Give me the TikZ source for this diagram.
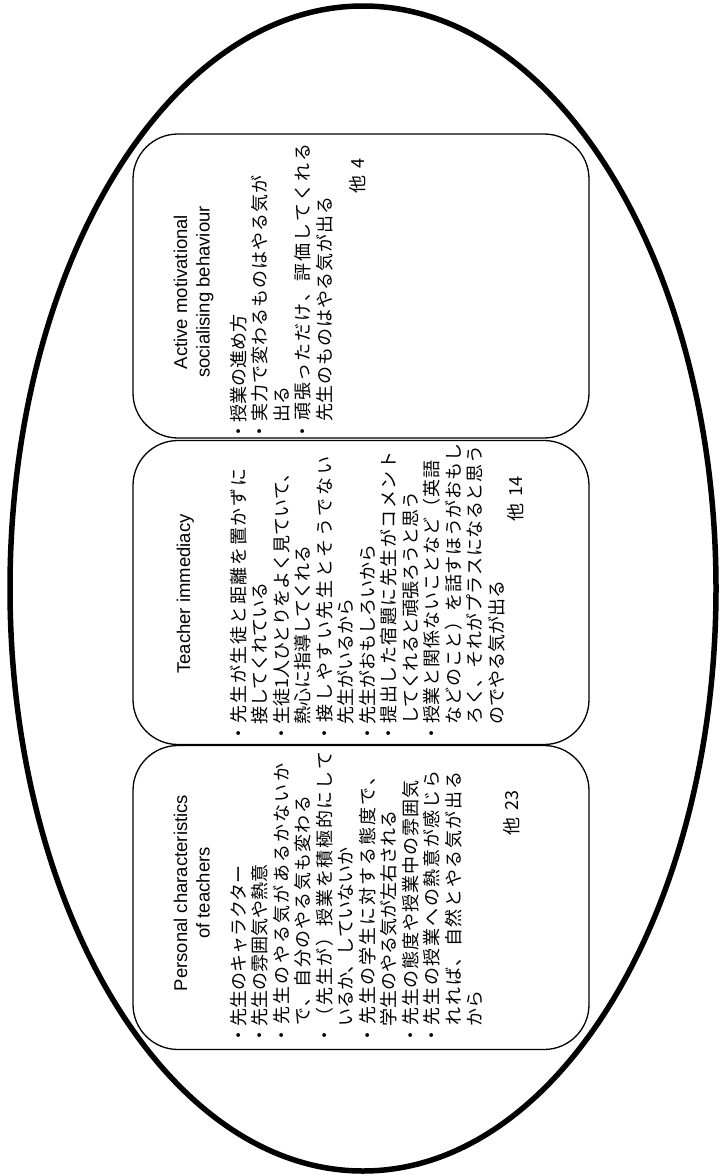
\documentclass[tikz,border=0pt]{standalone}
\usepackage{fontspec}
\setmainfont{Liberation Sans}
\newfontfamily\jp{Noto Sans CJK JP}
\usetikzlibrary{shapes.geometric}
\newcommand{\ph}{\phantom{・}}
% spread the characters of a line evenly over a given length
\def\sprA#1{#1\sprB}
\def\sprB#1{\ifx#1\relax\else\hfil#1\expandafter\sprB\fi}
\newcommand{\jl}[2]{\hbox to #1{\sprA#2\relax}}
\tikzset{
  oval/.style={draw, ellipse, line width=5.5pt, minimum width=706pt, minimum height=1165pt, inner sep=0},
  catbox/.style={draw, line width=1.3pt, rounded corners=45pt, minimum width=456pt, minimum height=304pt, inner sep=0},
  head/.style={rotate=90, anchor=base, inner sep=0, font=\fontsize{18.5}{22}\selectfont},
  body/.style={rotate=90, anchor=north west, inner sep=0, align=left, font=\jp\fontsize{18}{21.5}\selectfont},
  other/.style={rotate=90, anchor=east, inner sep=0, font=\jp\fontsize{18}{21.5}\selectfont},
}
\begin{document}
\begin{tikzpicture}[x=1pt,y=1pt]
\useasboundingbox (0,0) rectangle (720,-1175);
\node[oval] (oval) at (363,-588.5) {};
\node[catbox] (boxA) at (361,-286) {};
\node[catbox] (boxB) at (361,-592.5) {};
\node[catbox] (boxC) at (361,-897.5) {};
% headings
\node[head] (hA1) at (187,-292) {Active motivational};
\node[head] (hA2) at (209.5,-292) {socialising behaviour};
\node[head] (hB1) at (190,-594) {Teacher immediacy};
\node[head] (hC1) at (187,-893) {Personal characteristics};
\node[head] (hC2) at (209.5,-893) {of teachers};
% bodies
\node[body] (bA) at (230,-441) {%
・授業の進め方\\
\jl{265pt}{・実力で変わるものはやる気が}\\
\ph 出る\\
\jl{297pt}{・頑張っただけ、評価してくれる}\\
\jl{244pt}{\ph 先生のものはやる気が出る}};
\node[body] (bB) at (230,-743) {%
\jl{274pt}{・先生が生徒と距離を置かずに}\\
\ph 接してくれている\\
・生徒1人ひとりをよく見ていて、\\
\ph 熱心に指導してくれる\\
\jl{286pt}{・接しやすい先生とそうでない}\\
\ph 先生がいるから\\
・先生がおもしろいから\\
\jl{291pt}{・提出した宿題に先生がコメント}\\
\ph してくれると頑張ろうと思う\\
\jl{282pt}{・授業と関係ないことなど（英語}\\
\jl{299pt}{\ph などのこと）を話すほうがおもし}\\
\jl{297pt}{\ph ろく、それがプラスになると思う}\\
\ph のでやる気が出る};
\node[body] (bC) at (230,-1045) {%
・先生のキャラクター\\
・先生の雰囲気や熱意\\
\jl{281pt}{・先生のやる気があるかないか}\\
\jl{249pt}{\ph で、自分のやる気も変わる}\\
\jl{293pt}{・（先生が）授業を積極的にして}\\
\ph いるか、していないか\\
\jl{277pt}{・先生の学生に対する態度で、}\\
\ph 学生のやる気が左右される\\
\jl{264pt}{・先生の態度や授業中の雰囲気}\\
\jl{274pt}{・先生の授業への熱意が感じら}\\
\jl{273pt}{\ph れれば、自然とやる気が出る}\\
\ph から};
% others
\node[other] (oA) at (358,-158) {他\hspace{7pt}4};
\node[other] (oB) at (516,-476) {他\hspace{7pt}14};
\node[other] (oC) at (512,-790) {他\hspace{7pt}23};
\end{tikzpicture}
\end{document}
